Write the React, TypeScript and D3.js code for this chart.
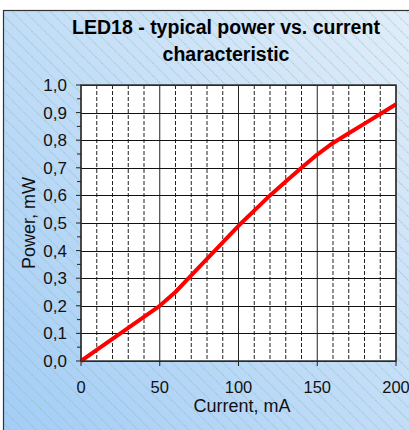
import React from "react";
import * as d3 from "d3";

const currents = [0, 10, 20, 30, 40, 50, 60, 70, 80, 90, 100, 110, 120, 130, 140, 150, 160, 170, 180, 190, 200];
const powers = [0, 0.04, 0.08, 0.12, 0.16, 0.2, 0.25, 0.31, 0.37, 0.43, 0.49, 0.545, 0.6, 0.65, 0.7, 0.748, 0.79, 0.825, 0.86, 0.895, 0.93];
const xTickLabels = [0, 50, 100, 150, 200];
const yTickValues = [0, 0.1, 0.2, 0.3, 0.4, 0.5, 0.6, 0.7, 0.8, 0.9, 1.0];
const titleLines = ["LED18 - typical power vs. current", "characteristic"];

const W = 409;
const H = 430;
const L = 81, R = 396, T = 85, B = 361;

export default function App() {
  const x = d3.scaleLinear().domain([0, 200]).range([L, R]);
  const y = d3.scaleLinear().domain([0, 1]).range([B, T]);
  const line = d3.line<number>().x((_, i) => x(currents[i])).y((d) => y(d));
  const minorX = d3.range(0, 201, 10);
  const minorY = d3.range(0.05, 1, 0.1);
  const fmt = (v: number) => v.toFixed(1).replace(".", ",");
  return (
    <svg width={W} height={H} style={{ position: "absolute", left: 0, top: 0 }} fontFamily="Arial, 'Liberation Sans', sans-serif">
      <defs>
        <linearGradient id="bg" x1="0" y1="1" x2="1" y2="0">
          <stop offset="0" stopColor="#a3ccf6" />
          <stop offset="1" stopColor="#e2edf9" />
        </linearGradient>
        <pattern id="hatch" patternUnits="userSpaceOnUse" width="9" height="9" patternTransform="rotate(-45)">
          <line x1="0" y1="0" x2="0" y2="9" stroke="#6fbf9f" strokeWidth="1" strokeDasharray="1.2,0.8" />
        </pattern>
      </defs>
      <rect x={0} y={0} width={W} height={H} fill="#ffffff" />
      <rect x={3.5} y={10.5} width={W} height={H} fill="url(#bg)" stroke="#333" strokeWidth={1.2} />
      <rect x={4} y={11} width={W} height={H} fill="url(#hatch)" />
      {titleLines.map((t, i) => (
        <text key={i} x={226} y={34 + i * 27} textAnchor="middle" fontSize={19.5} fontWeight="bold" fill="#000">
          {t}
        </text>
      ))}
      <rect x={L} y={T} width={R - L} height={B - T} fill="#fff" />
      {minorX.map((v) => (
        <line
          key={"vx" + v}
          x1={x(v)}
          x2={x(v)}
          y1={T}
          y2={B}
          stroke="#222"
          strokeWidth={1}
          strokeDasharray={v % 50 === 0 ? undefined : "4,2"}
        />
      ))}
      {yTickValues.map((v) => (
        <line key={"hy" + v} x1={L} x2={R} y1={Math.round(y(v)) + 0.5} y2={Math.round(y(v)) + 0.5} stroke="#111" strokeWidth={1} />
      ))}
      <path d={line(powers) || ""} fill="none" stroke="#ff0000" strokeWidth={4} strokeLinejoin="round" />
      <rect x={L} y={T} width={R - L} height={B - T} fill="none" stroke="#333" strokeWidth={1.5} />
      {yTickValues.map((v) => (
        <g key={"yt" + v}>
          <line x1={L - 5} x2={L} y1={y(v)} y2={y(v)} stroke="#222" />
          <text x={67} y={y(v) + 6} textAnchor="end" fontSize={17} fill="#111">
            {fmt(v)}
          </text>
        </g>
      ))}
      {minorY.map((v) => (
        <line key={"ym" + v} x1={L - 4} x2={L} y1={y(v)} y2={y(v)} stroke="#222" />
      ))}
      {xTickLabels.map((v) => (
        <g key={"xt" + v}>
          <line x1={x(v)} x2={x(v)} y1={B} y2={B + 5} stroke="#222" />
          <text x={x(v)} y={393} textAnchor="middle" fontSize={16.5} fill="#111">
            {v}
          </text>
        </g>
      ))}
      <text x={242} y={412} textAnchor="middle" fontSize={18} fill="#111">
        Current, mA
      </text>
      <text transform={`translate(35,${(T + B) / 2}) rotate(-90)`} textAnchor="middle" fontSize={18} fill="#111">
        Power, mW
      </text>
    </svg>
  );
}
